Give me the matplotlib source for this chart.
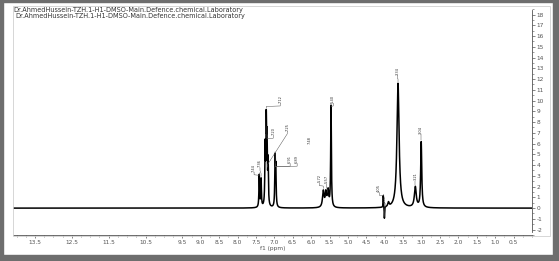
import numpy as np
import matplotlib
matplotlib.use("Agg")
import matplotlib.pyplot as plt
from matplotlib.patches import Rectangle
from matplotlib.ticker import MultipleLocator, FixedLocator

# ---- data ----
title_lines = ["Dr.AhmedHussein-TZH.1-H1-DMSO-Main.Defence.chemical.Laboratory",
               "Dr.AhmedHussein-TZH.1-H1-DMSO-Main.Defence.chemical.Laboratory"]
peak_ppm = [7.41, 7.36, 7.25, 7.22, 7.20, 7.17, 6.98, 6.96, 5.67, 5.60, 5.54, 5.46,
            4.04, 4.01, 3.90, 3.64, 3.17, 3.01]
peak_height = [3.0, 2.6, 5.4, 7.4, 5.4, 4.0, 4.4, 3.4, 1.5, 1.3, 1.5, 9.4,
               1.1, -1.1, 0.4, 11.6, 1.9, 6.1]
peak_width = [0.010, 0.010, 0.010, 0.010, 0.010, 0.010, 0.010, 0.010, 0.025, 0.022, 0.022, 0.011,
              0.006, 0.006, 0.02, 0.035, 0.03, 0.017]

label_text = ["7.44", "7.36", "7.12", "7.20", "7.25", "6.91", "6.89", "5.72", "5.57",
              "5.40", "4.05", "4.01", "3.34", "3.21", "3.04"]
label_peak = [7.41, 7.36, 7.22, 7.20, 7.18, 6.98, 6.97, 5.67, 5.56, 5.46, 4.04, 4.01, 3.64, 3.17, 3.01]
label_x = [7.55, 7.39, 6.84, 7.03, 6.65, 6.57, 6.38, 5.78, 5.59, 5.40, 4.15, 3.99, 3.66, 3.17, 3.01]
label_y = [3.9, 4.3, 10.3, 7.3, 7.7, 4.7, 4.7, 2.9, 2.8, 10.3, 2.0, 1.0, 12.9, 3.1, 7.4]
float_label = "7.48"
float_label_xy = (6.05, 6.3)

x_ticks = [13.5, 12.5, 11.5, 10.5, 9.5, 9.0, 8.5, 8.0, 7.5, 7.0, 6.5, 6.0, 5.5, 5.0,
           4.5, 4.0, 3.5, 3.0, 2.5, 2.0, 1.5, 1.0, 0.5]
y_ticks = list(range(-2, 19))

# ---- figure ----
W, H = 559, 261
fig = plt.figure(figsize=(W / 100, H / 100), dpi=100)
fig.patch.set_facecolor("white")

# outer picture border
border = "#6e6e6e"
fig.patches.append(Rectangle((0, 0), 3 / W, 1, transform=fig.transFigure, color=border, zorder=10))
fig.patches.append(Rectangle((0, 0), 1, 6 / H, transform=fig.transFigure, color=border, zorder=10))
fig.patches.append(Rectangle((1 - 6 / W, 0), 6 / W, 1, transform=fig.transFigure, color=border, zorder=10))
fig.patches.append(Rectangle((0, 1 - 1.5 / H), 1, 1.5 / H, transform=fig.transFigure, color=border, zorder=10))
# light inner frame
fig.patches.append(Rectangle((13 / W, 1 - 236 / H), (550 - 13) / W, (236 - 6) / H,
                             transform=fig.transFigure, fill=False, ec="#d0d0d0", lw=0.6, zorder=1))

ax = fig.add_axes([13 / W, 1 - 235 / H, (532 - 13) / W, (235 - 7) / H])
ax.set_facecolor("none")

x = np.linspace(14.1, 0.0, 6000)
y = np.zeros_like(x)
for p, h, w in zip(peak_ppm, peak_height, peak_width):
    y += h * w**2 / ((x - p) ** 2 + w**2)
ax.plot(x, y, color="black", lw=1.1)

ax.set_xlim(14.1, 0.0)
ax.set_ylim(-2.5, 18.7)

# peak labels with leader lines
for t, p, lx, ly in zip(label_text, label_peak, label_x, label_y):
    top = float(np.interp(p, x[::-1], y[::-1]))
    yb = ly - 0.55
    ax.plot([p, p, lx, lx], [top + 0.15, min(top + 0.4, yb - 0.3), yb - 0.25, yb],
            color="#555555", lw=0.35)
    ax.text(lx, yb + 0.05, t, rotation=90, fontsize=2.6, color="#333333",
            ha="center", va="bottom")
ax.text(float_label_xy[0], float_label_xy[1], float_label, rotation=90, fontsize=2.6,
        color="#333333", ha="center", va="center")

# spines
for s in ["left", "top"]:
    ax.spines[s].set_visible(False)
ax.spines["bottom"].set_color("#555555")
ax.spines["bottom"].set_linewidth(0.6)
ax.spines["right"].set_color("#555555")
ax.spines["right"].set_linewidth(0.6)
ax.spines["right"].set_bounds(-2.2, 18.4)

ax.xaxis.set_major_locator(FixedLocator(x_ticks))
ax.xaxis.set_minor_locator(MultipleLocator(0.25))
ax.set_xticklabels([f"{v:.1f}" for v in x_ticks])
ax.yaxis.tick_right()
ax.yaxis.set_label_position("right")
ax.yaxis.set_major_locator(FixedLocator(y_ticks))
ax.yaxis.set_minor_locator(MultipleLocator(0.5))
ax.set_yticklabels([str(v) for v in y_ticks])
ax.tick_params(axis="both", which="major", labelsize=4.2, colors="#555555",
               length=2, width=0.5, pad=1.5, labelcolor="#555555")
ax.tick_params(axis="both", which="minor", length=1.2, width=0.4, colors="#555555")
ax.tick_params(axis="y", which="both", left=False, right=True)
ax.set_xlabel("f1 (ppm)", fontsize=4.2, color="#555555", labelpad=0.5)

fig.text(13 / W, 1 - 10 / H, title_lines[0], fontsize=4.7, color="#333333", va="center")
fig.text(15 / W, 1 - 16 / H, title_lines[1], fontsize=4.7, color="#333333", va="center")

fig.savefig("out.png", dpi=100)
